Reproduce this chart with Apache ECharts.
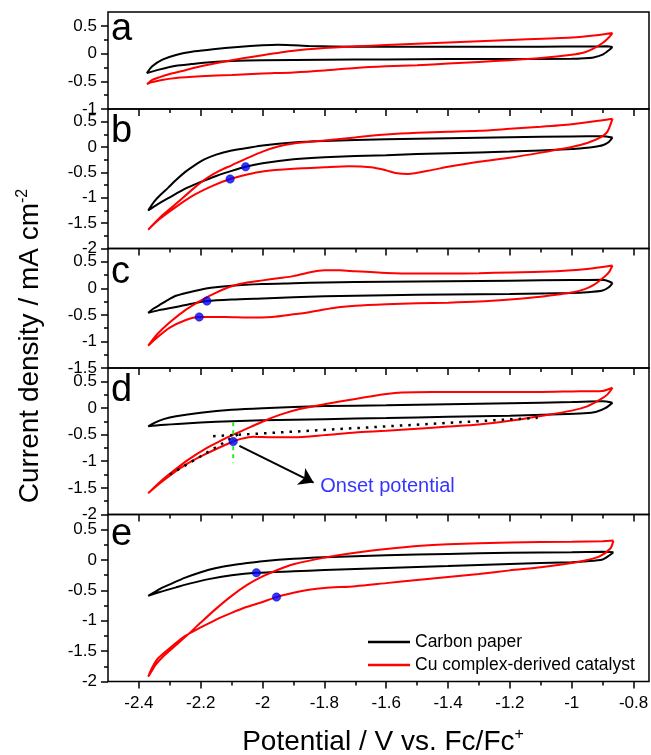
<!DOCTYPE html>
<html><head><meta charset="utf-8">
<script src="https://cdn.jsdelivr.net/npm/echarts@6/dist/echarts.min.js"></script>
<style>html,body{margin:0;padding:0;background:#fff}#c{width:651px;height:755px}</style>
</head><body><div id="c"></div>
<script>
// ---------- data ----------
const panelLetters = ['a', 'b', 'c', 'd', 'e'];
const xMajorTicks = [-2.4, -2.2, -2.0, -1.8, -1.6, -1.4, -1.2, -1.0, -0.8];
const xMinorTicks = [-2.3, -2.1, -1.9, -1.7, -1.5, -1.3, -1.1, -0.9];
const yMinByPanel = [-1, -2, -1.5, -2, -2];
const yMaxByPanel = [0.75, 0.75, 0.75, 0.75, 0.75];
const yMajorA = [-1, -0.5, 0, 0.5];
const yMinorA = [-0.75, -0.25, 0.25];
const yMajorB = [-2, -1.5, -1, -0.5, 0, 0.5];
const yMinorB = [-1.75, -1.25, -0.75, -0.25, 0.25];
const yMajorC = [-1.5, -1, -0.5, 0, 0.5];
const yMinorC = [-1.25, -0.75, -0.25, 0.25];

// CV loops: [potential V vs Fc/Fc+, current density mA cm-2]
const carbonA = [[-0.868,0.12],[-0.88,0.06],[-0.9,-0.02],[-0.93,-0.07],[-0.96,-0.085],[-1.0,-0.095],[-1.2,-0.10],[-1.4,-0.10],[-1.6,-0.105],[-1.8,-0.11],[-2.0,-0.12],[-2.1,-0.135],[-2.17,-0.158],[-2.23,-0.19],[-2.28,-0.22],[-2.335,-0.29],[-2.374,-0.35],
  [-2.357,-0.23],[-2.324,-0.11],[-2.28,-0.025],[-2.22,0.04],[-2.16,0.08],[-2.08,0.12],[-2.0,0.15],[-1.95,0.16],[-1.9,0.15],[-1.85,0.135],[-1.7,0.125],[-1.5,0.125],[-1.3,0.125],[-1.1,0.125],[-0.95,0.128],[-0.885,0.13],[-0.868,0.12]];
const cuA = [[-0.868,0.37],[-0.88,0.29],[-0.9,0.19],[-0.93,0.09],[-0.96,0.02],[-1.0,-0.02],[-1.1,-0.08],[-1.2,-0.12],[-1.3,-0.15],[-1.4,-0.18],[-1.5,-0.21],[-1.6,-0.23],[-1.7,-0.26],[-1.8,-0.305],[-1.9,-0.34],[-2.0,-0.36],[-2.1,-0.385],[-2.2,-0.41],[-2.28,-0.44],[-2.33,-0.48],[-2.36,-0.52],[-2.374,-0.55],
  [-2.355,-0.47],[-2.33,-0.42],[-2.3,-0.37],[-2.25,-0.30],[-2.2,-0.23],[-2.1,-0.12],[-2.0,-0.03],[-1.9,0.05],[-1.8,0.10],[-1.7,0.13],[-1.6,0.155],[-1.4,0.20],[-1.2,0.245],[-1.0,0.29],[-0.92,0.33],[-0.868,0.37]];
const carbonB = [[-0.868,0.19],[-0.88,0.10],[-0.9,0.035],[-0.93,0.0],[-0.96,-0.02],[-1.0,-0.04],[-1.2,-0.09],[-1.4,-0.12],[-1.6,-0.16],[-1.8,-0.20],[-1.9,-0.24],[-2.0,-0.32],[-2.055,-0.39],[-2.1,-0.47],[-2.15,-0.57],[-2.2,-0.69],[-2.25,-0.82],[-2.3,-0.99],[-2.34,-1.13],[-2.37,-1.25],
  [-2.35,-1.07],[-2.33,-0.94],[-2.305,-0.80],[-2.28,-0.65],[-2.25,-0.49],[-2.22,-0.36],[-2.19,-0.25],[-2.15,-0.15],[-2.1,-0.07],[-2.05,-0.02],[-2.0,0.03],[-1.9,0.09],[-1.8,0.12],[-1.6,0.155],[-1.4,0.175],[-1.2,0.195],[-1.0,0.21],[-0.9,0.215],[-0.868,0.19]];
const cuB = [[-0.868,0.56],[-0.885,0.30],[-0.91,0.18],[-0.95,0.08],[-1.0,0.0],[-1.1,-0.11],[-1.2,-0.21],[-1.3,-0.29],[-1.4,-0.39],[-1.45,-0.45],[-1.53,-0.53],[-1.57,-0.51],[-1.6,-0.46],[-1.65,-0.40],[-1.72,-0.38],[-1.8,-0.40],[-1.9,-0.43],[-2.0,-0.48],[-2.05,-0.54],[-2.105,-0.63],[-2.16,-0.76],[-2.22,-0.94],[-2.28,-1.18],[-2.335,-1.43],[-2.37,-1.63],
  [-2.33,-1.38],[-2.28,-1.12],[-2.22,-0.80],[-2.18,-0.61],[-2.14,-0.47],[-2.1,-0.36],[-2.05,-0.22],[-2.0,-0.09],[-1.95,0.01],[-1.9,0.07],[-1.8,0.13],[-1.7,0.19],[-1.6,0.245],[-1.5,0.28],[-1.4,0.30],[-1.3,0.32],[-1.2,0.36],[-1.1,0.40],[-1.0,0.45],[-0.9,0.53],[-0.868,0.56]];
const carbonC = [[-0.868,0.10],[-0.88,0.02],[-0.9,-0.04],[-0.95,-0.075],[-1.0,-0.09],[-1.2,-0.105],[-1.4,-0.115],[-1.6,-0.13],[-1.8,-0.15],[-2.0,-0.19],[-2.1,-0.21],[-2.18,-0.24],[-2.23,-0.29],[-2.28,-0.35],[-2.335,-0.41],[-2.37,-0.46],
  [-2.355,-0.39],[-2.335,-0.32],[-2.31,-0.23],[-2.28,-0.14],[-2.22,-0.05],[-2.167,0.01],[-2.1,0.05],[-2.0,0.08],[-1.9,0.095],[-1.8,0.11],[-1.6,0.125],[-1.4,0.135],[-1.2,0.145],[-1.0,0.155],[-0.9,0.16],[-0.868,0.10]];
const cuC = [[-0.868,0.43],[-0.88,0.30],[-0.9,0.19],[-0.93,0.06],[-0.96,-0.02],[-1.0,-0.08],[-1.05,-0.12],[-1.1,-0.16],[-1.2,-0.21],[-1.3,-0.25],[-1.4,-0.27],[-1.5,-0.28],[-1.6,-0.30],[-1.7,-0.33],[-1.77,-0.37],[-1.85,-0.45],[-1.9,-0.49],[-1.97,-0.54],[-2.05,-0.55],[-2.12,-0.54],[-2.205,-0.54],[-2.25,-0.60],[-2.3,-0.74],[-2.34,-0.92],[-2.37,-1.08],
  [-2.34,-0.86],[-2.3,-0.64],[-2.25,-0.41],[-2.2,-0.23],[-2.15,-0.08],[-2.1,0.04],[-2.05,0.11],[-2.0,0.15],[-1.95,0.19],[-1.9,0.23],[-1.85,0.30],[-1.8,0.34],[-1.75,0.34],[-1.7,0.32],[-1.6,0.29],[-1.5,0.28],[-1.4,0.28],[-1.3,0.285],[-1.2,0.30],[-1.1,0.31],[-1.0,0.34],[-0.93,0.38],[-0.868,0.43]];
const carbonD = [[-0.868,0.10],[-0.89,0.0],[-0.92,-0.07],[-0.96,-0.10],[-1.04,-0.12],[-1.2,-0.145],[-1.4,-0.165],[-1.6,-0.19],[-1.8,-0.21],[-2.0,-0.23],[-2.15,-0.26],[-2.25,-0.29],[-2.33,-0.32],[-2.37,-0.345],
  [-2.35,-0.28],[-2.32,-0.21],[-2.28,-0.155],[-2.2,-0.09],[-2.1,-0.035],[-2.0,-0.005],[-1.8,0.035],[-1.6,0.05],[-1.4,0.07],[-1.2,0.09],[-1.0,0.11],[-0.9,0.125],[-0.868,0.10]];
const cuD = [[-0.868,0.38],[-0.885,0.25],[-0.91,0.15],[-0.95,0.03],[-1.0,-0.05],[-1.1,-0.15],[-1.2,-0.24],[-1.3,-0.31],[-1.4,-0.35],[-1.5,-0.39],[-1.6,-0.43],[-1.7,-0.46],[-1.8,-0.51],[-1.9,-0.55],[-1.97,-0.55],[-2.03,-0.54],[-2.07,-0.58],[-2.095,-0.63],[-2.15,-0.77],[-2.2,-0.91],[-2.25,-1.07],[-2.3,-1.27],[-2.34,-1.45],[-2.37,-1.6],
  [-2.33,-1.38],[-2.29,-1.19],[-2.24,-0.97],[-2.18,-0.75],[-2.13,-0.60],[-2.095,-0.50],[-2.04,-0.36],[-1.99,-0.23],[-1.94,-0.12],[-1.88,-0.02],[-1.8,0.07],[-1.7,0.17],[-1.6,0.26],[-1.55,0.29],[-1.45,0.30],[-1.3,0.30],[-1.2,0.30],[-1.1,0.30],[-1.0,0.31],[-0.9,0.32],[-0.868,0.38]];
const carbonE = [[-0.865,0.13],[-0.88,0.07],[-0.9,0.01],[-0.95,-0.02],[-1.0,-0.035],[-1.2,-0.065],[-1.4,-0.10],[-1.6,-0.13],[-1.8,-0.165],[-1.9,-0.185],[-2.02,-0.21],[-2.1,-0.25],[-2.17,-0.31],[-2.23,-0.38],[-2.28,-0.45],[-2.335,-0.53],[-2.37,-0.59],
  [-2.33,-0.47],[-2.3,-0.40],[-2.25,-0.29],[-2.2,-0.20],[-2.15,-0.13],[-2.1,-0.085],[-2.05,-0.05],[-2.0,-0.02],[-1.9,0.02],[-1.8,0.045],[-1.6,0.08],[-1.4,0.10],[-1.2,0.12],[-1.0,0.13],[-0.9,0.135],[-0.865,0.13]];
const cuE = [[-0.865,0.32],[-0.875,0.19],[-0.91,0.06],[-0.95,0.0],[-1.0,-0.05],[-1.1,-0.12],[-1.2,-0.17],[-1.3,-0.23],[-1.4,-0.28],[-1.5,-0.33],[-1.6,-0.38],[-1.7,-0.43],[-1.8,-0.46],[-1.85,-0.49],[-1.9,-0.54],[-1.955,-0.61],[-2.0,-0.69],[-2.05,-0.77],[-2.1,-0.87],[-2.15,-0.98],[-2.2,-1.11],[-2.25,-1.25],[-2.3,-1.45],[-2.34,-1.63],[-2.36,-1.8],[-2.37,-1.92],
  [-2.36,-1.84],[-2.345,-1.72],[-2.32,-1.58],[-2.28,-1.40],[-2.24,-1.22],[-2.2,-1.03],[-2.15,-0.80],[-2.1,-0.59],[-2.05,-0.41],[-2.0,-0.27],[-1.95,-0.16],[-1.9,-0.07],[-1.8,0.04],[-1.7,0.12],[-1.6,0.18],[-1.5,0.23],[-1.4,0.26],[-1.2,0.29],[-1.0,0.30],[-0.9,0.31],[-0.865,0.32]];

// onset points (blue dots)
const onsetB = [[-2.055,-0.39],[-2.105,-0.63]];
const onsetC = [[-2.18,-0.24],[-2.205,-0.54]];
const onsetD = [[-2.095,-0.63]];
const onsetE = [[-2.02,-0.21],[-1.955,-0.61]];

// panel d construction lines
const baselineD = [[-2.16,-0.53],[-1.11,-0.185]];
const tangentD = [[-2.30,-1.25],[-2.07,-0.46]];
const markerD = [[-2.095,-0.27],[-2.095,-1.03]];
const arrowD = [[-2.075,-0.71],[-1.835,-1.40]];
const onsetLabelD = [[-1.815,-1.48]];

const carbonLoops = [carbonA, carbonB, carbonC, carbonD, carbonE];
const cuLoops = [cuA, cuB, cuC, cuD, cuE];
const onsetDots = [[], onsetB, onsetC, onsetD, onsetE];
const yMajorByPanel = [yMajorA, yMajorB, yMajorC, yMajorB, yMajorB];
const yMinorByPanel = [yMinorA, yMinorB, yMinorC, yMinorB, yMinorB];

// ---------- layout ----------
const FONT = '"Liberation Sans", Arial, Helvetica, sans-serif';
const gridTops = [12, 109, 248.5, 368, 514.5];
const gridHeights = [97, 139.5, 119.5, 146.5, 167];
const letterBaselines = [31, 36, 38, 36, 34];

const grid = gridTops.map((t, i) => ({
  left: 108, width: 541, top: t, height: gridHeights[i],
  show: true, borderColor: '#000', borderWidth: 1.5, backgroundColor: 'transparent',
  outerBoundsMode: 'none', containLabel: false
}));

const xAxis = [], yAxis = [];
panelLetters.forEach((p, i) => {
  xAxis.push({
    type: 'value', gridIndex: i, min: -2.5, max: -0.75, position: 'bottom',
    axisLine: { show: false, onZero: false }, splitLine: { show: false },
    axisTick: { show: true, inside: false, length: 7, lineStyle: { color: '#000', width: 1.5 }, customValues: xMajorTicks },
    axisLabel: { show: i === 4, customValues: xMajorTicks, margin: 13, fontSize: 17, color: '#000', fontFamily: FONT }
  });
  xAxis.push({
    type: 'value', gridIndex: i, min: -2.5, max: -0.75, position: 'bottom',
    axisLine: { show: false, onZero: false }, splitLine: { show: false },
    axisTick: { show: true, inside: false, length: 4, lineStyle: { color: '#000', width: 1.5 }, customValues: xMinorTicks },
    axisLabel: { show: false }
  });
  yAxis.push({
    type: 'value', gridIndex: i, min: yMinByPanel[i], max: yMaxByPanel[i], position: 'left',
    axisLine: { show: false, onZero: false }, splitLine: { show: false },
    axisTick: { show: true, inside: false, length: 7, lineStyle: { color: '#000', width: 1.5 }, customValues: yMajorByPanel[i] },
    axisLabel: { show: true, customValues: yMajorByPanel[i], margin: 11, fontSize: 17, color: '#000', fontFamily: FONT }
  });
  yAxis.push({
    type: 'value', gridIndex: i, min: yMinByPanel[i], max: yMaxByPanel[i], position: 'left',
    axisLine: { show: false, onZero: false }, splitLine: { show: false },
    axisTick: { show: true, inside: false, length: 4, lineStyle: { color: '#000', width: 1.5 }, customValues: yMinorByPanel[i] },
    axisLabel: { show: false }
  });
});

const series = [];
panelLetters.forEach((p, i) => {
  const ax = { xAxisIndex: 2 * i, yAxisIndex: 2 * i };
  series.push(Object.assign({
    name: 'Carbon paper', type: 'line', data: carbonLoops[i], symbol: 'none', smooth: 0.25,
    lineStyle: { color: '#000', width: 2 }, itemStyle: { color: '#000' }, z: 3, silent: true
  }, ax));
  series.push(Object.assign({
    name: 'Cu complex-derived catalyst', type: 'line', data: cuLoops[i], symbol: 'none', smooth: 0.25,
    lineStyle: { color: '#ff0000', width: 2 }, itemStyle: { color: '#ff0000' }, z: 4, silent: true
  }, ax));
  if (i === 3) {
    series.push(Object.assign({ type: 'line', data: baselineD, symbol: 'none',
      lineStyle: { color: '#000', width: 2.5, type: [2.5, 6] }, z: 5, silent: true }, ax));
    series.push(Object.assign({ type: 'line', data: tangentD, symbol: 'none',
      lineStyle: { color: '#000', width: 2.5, type: [2.5, 6] }, z: 5, silent: true }, ax));
    series.push(Object.assign({ type: 'line', data: markerD, symbol: 'none',
      lineStyle: { color: '#22ee22', width: 2, type: [4, 4] }, z: 5, silent: true }, ax));
    series.push(Object.assign({ type: 'lines', coordinateSystem: 'cartesian2d', data: [{ coords: arrowD }],
      symbol: ['none', 'arrow'], symbolSize: 14, lineStyle: { color: '#000', width: 2, opacity: 1 },
      itemStyle: { color: '#000' }, z: 6, silent: true }, ax));
    series.push(Object.assign({ type: 'scatter', data: onsetLabelD, symbolSize: 1,
      itemStyle: { color: 'rgba(0,0,0,0)' },
      label: { show: true, formatter: 'Onset potential', position: 'right', distance: 0,
        color: '#0000ff', fontSize: 20, fontFamily: FONT }, z: 6, silent: true }, ax));
  }
  if (onsetDots[i].length) {
    series.push(Object.assign({ type: 'scatter', data: onsetDots[i], symbolSize: 8.5,
      itemStyle: { color: '#0000ff', borderColor: '#000080', borderWidth: 0.5 }, z: 7, silent: true }, ax));
  }
});

const graphic = panelLetters.map((p, i) => ({
  type: 'text', x: 111, y: gridTops[i] + letterBaselines[i] - 0.36 * 38, z: 10,
  style: { text: p, font: '38px ' + FONT, fill: '#000', align: 'left', verticalAlign: 'middle' }
}));
graphic.push({
  type: 'text', x: 30, y: 346, rotation: Math.PI / 2, z: 10,
  style: {
    text: '{n|Current density / mA cm}{s|-2}', align: 'center', verticalAlign: 'middle', fill: '#000',
    rich: {
      n: { fontSize: 28, fontFamily: FONT, fill: '#000', lineHeight: 30 },
      s: { fontSize: 16, fontFamily: FONT, fill: '#000', verticalAlign: 'top', lineHeight: 30 }
    }
  }
});
graphic.push({
  type: 'text', x: 383, y: 742, z: 10,
  style: {
    text: '{n|Potential / V vs. Fc/Fc}{s|+}', align: 'center', verticalAlign: 'middle', fill: '#000',
    rich: {
      n: { fontSize: 28, fontFamily: FONT, fill: '#000', lineHeight: 30 },
      s: { fontSize: 16, fontFamily: FONT, fill: '#000', verticalAlign: 'top', lineHeight: 30 }
    }
  }
});

const chart = echarts.init(document.getElementById('c'), null, { renderer: 'canvas', width: 651, height: 755 });
chart.setOption({
  animation: false,
  backgroundColor: '#fff',
  grid, xAxis, yAxis, series, graphic,
  legend: {
    data: [
      { name: 'Carbon paper', icon: 'rect', itemStyle: { color: '#000' } },
      { name: 'Cu complex-derived catalyst', icon: 'rect', itemStyle: { color: '#ff0000' } }
    ],
    orient: 'vertical', left: 363, top: 628,
    itemWidth: 42, itemHeight: 2.5, itemGap: 5, selectedMode: false,
    textStyle: { fontSize: 17.5, color: '#000', fontFamily: FONT }
  }
});
</script></body></html>
